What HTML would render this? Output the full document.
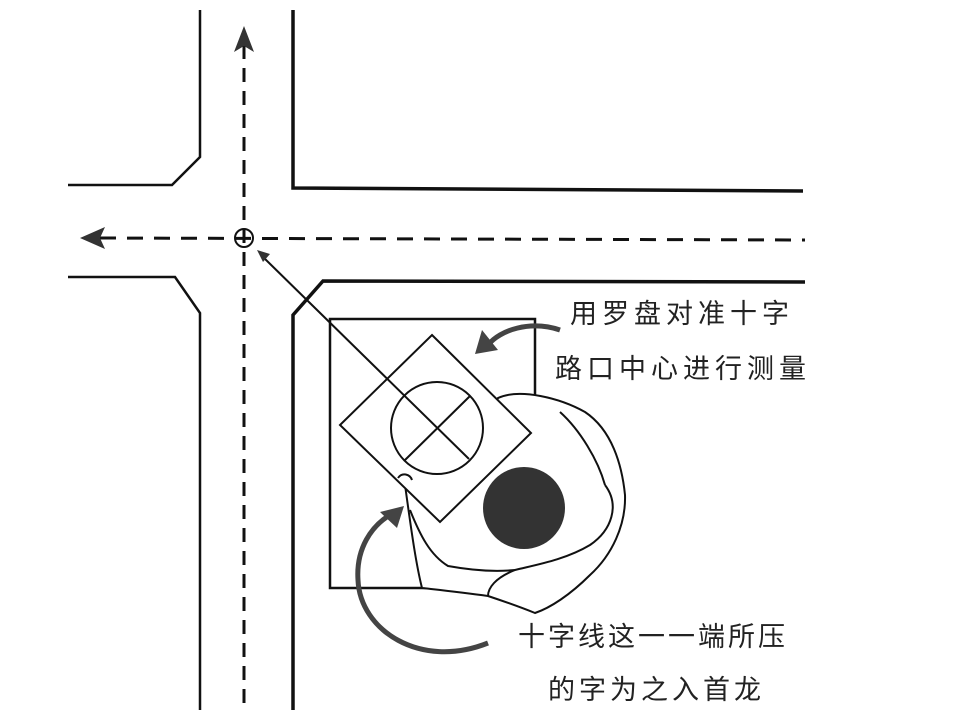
<!DOCTYPE html>
<html><head><meta charset="utf-8"><style>
html,body{margin:0;padding:0;background:#fff;}
svg{display:block}
text{font-family:"Liberation Sans","Noto Sans CJK SC",sans-serif;font-size:27px;fill:#222;}
</style></head><body>
<svg width="965" height="710" viewBox="0 0 965 710" xmlns="http://www.w3.org/2000/svg">
<g fill="none" stroke="#111" stroke-width="2.5">
<polyline points="68,185 172,185 200,157 200,10"/>
<polyline points="68,277 175,277 200,313 200,710"/>
<polyline points="293,10 293,188 803,191" stroke-width="3.5"/>
<polyline points="293,710 293,315 323,281 805,282" stroke-width="3.5"/>
</g>
<g stroke="#111" stroke-width="3" fill="none">
<line x1="244" y1="45" x2="244" y2="710" stroke-dasharray="14,9"/>
<line x1="100" y1="238" x2="805" y2="240" stroke-dasharray="16,11"/>
<circle cx="244" cy="238" r="9" stroke-width="2"/>
<line x1="238" y1="238" x2="250" y2="238" stroke-width="1.5"/>
</g>
<polygon points="244,26 234,52 244,46 254,52" fill="#333"/>
<polygon points="80,238 105,227 100,238 105,249" fill="#333"/>
<g stroke="#111" stroke-width="2" fill="none">
<polyline points="430,588 330,588 330,319 535,319 535,400" stroke-width="2.5"/>
<path d="M498,398 C520,388 560,398 585,412 C612,430 622,465 625,495 C626,525 612,555 590,575 C570,595 550,608 535,613 C515,605 500,600 488,596 C460,592 440,590 422,588 C415,560 410,520 405,485 L440,515 Z" fill="#fff"/>
<path d="M560,412 C580,430 598,460 605,485"/>
<path d="M605,485 C620,505 612,530 590,545 C565,560 535,565 515,570 C495,578 488,588 488,596"/>
<path d="M515,570 C495,572 470,570 448,566 C430,555 420,535 410,510"/>
<polygon points="432,335 531,433 440,522 340,425" fill="#fff"/>
<line x1="262" y1="256" x2="469" y2="459"/>
<circle cx="437" cy="428" r="46"/>
<line x1="405" y1="460" x2="470" y2="396"/>
<path d="M398,478 C402,472 410,474 412,480"/>
</g>
<polygon points="257,250 270,254 263,262" fill="#333"/>
<circle cx="524" cy="508" r="41" fill="#333"/>
<g fill="none" stroke="#444" stroke-width="5">
<path d="M560,330 C530,320 500,330 488,345"/>
<path d="M488,643 C420,670 360,630 358,580 C356,550 370,525 395,512"/>
</g>
<polygon points="475,354 482,330 498,350" fill="#444"/>
<polygon points="404,506 380,512 397,528" fill="#444"/>
<text x="570" y="323" letter-spacing="5">用罗盘对准十字</text>
<text x="555" y="378" letter-spacing="5">路口中心进行测量</text>
<text x="518" y="646" letter-spacing="3">十字线这一一端所压</text>
<text x="548" y="699" letter-spacing="4">的字为之入首龙</text>
</svg>
</body></html>
